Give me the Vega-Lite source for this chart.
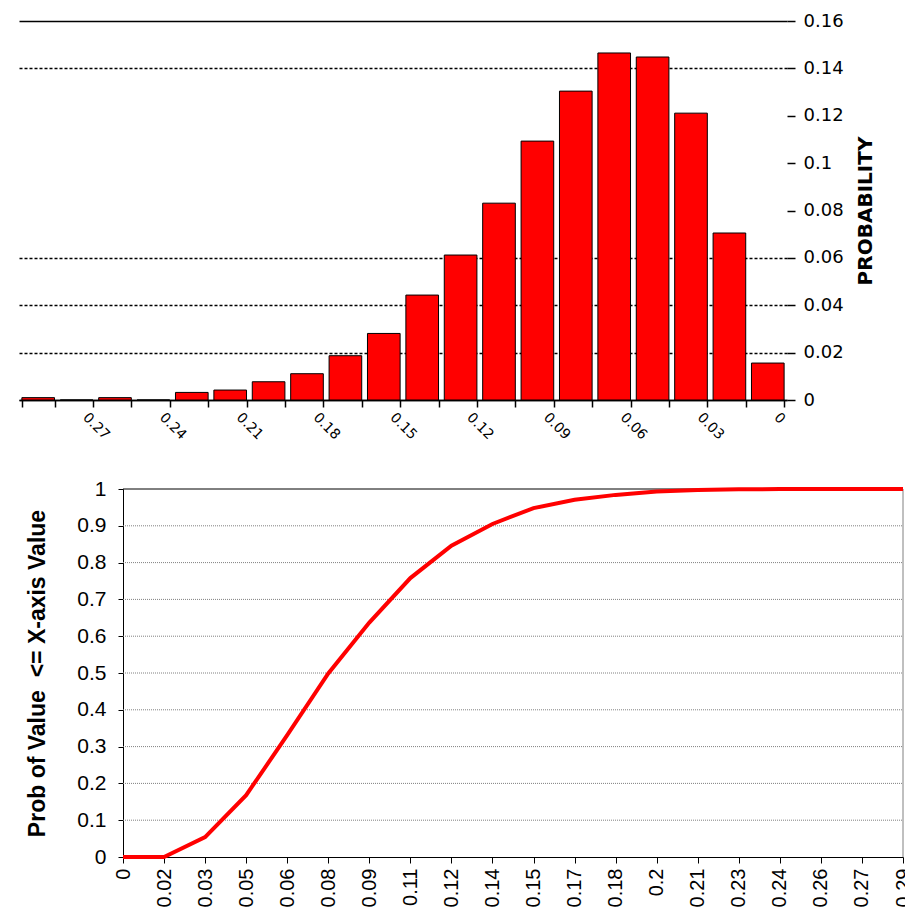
{
  "$schema": "https://vega.github.io/schema/vega-lite/v6.json",
  "background": "white",
  "padding": {"left": 14, "top": 12, "right": 0, "bottom": 0},
  "columns": 1,
  "align": "none",
  "spacing": 36,
  "concat": [
    {
      "width": 768,
      "height": 379,
      "view": {"stroke": null},
      "data": {"values": [
        {"x": "0.29", "p": 0.001},
        {"x": "0.27", "p": 0.0},
        {"x": "0.26", "p": 0.001},
        {"x": "0.24", "p": 0.0},
        {"x": "0.23", "p": 0.0032},
        {"x": "0.21", "p": 0.0042},
        {"x": "0.2", "p": 0.0077},
        {"x": "0.18", "p": 0.0111},
        {"x": "0.17", "p": 0.0187},
        {"x": "0.15", "p": 0.0281},
        {"x": "0.14", "p": 0.0443},
        {"x": "0.12", "p": 0.0612},
        {"x": "0.11", "p": 0.0831},
        {"x": "0.09", "p": 0.1093},
        {"x": "0.08", "p": 0.1304},
        {"x": "0.06", "p": 0.1465},
        {"x": "0.05", "p": 0.1448},
        {"x": "0.03", "p": 0.1211},
        {"x": "0.02", "p": 0.0705},
        {"x": "0", "p": 0.0156}
      ]},
      "mark": {"type": "bar", "color": "#ff0000", "stroke": "#000000", "strokeWidth": 1},
      "encoding": {
        "x": {
          "field": "x", "type": "ordinal", "sort": null,
          "scale": {"paddingInner": 0.15, "paddingOuter": 0.075},
          "axis": {
            "title": null,
            "labelAngle": 45, "labelAlign": "left", "labelBaseline": "middle",
            "labelFont": "DejaVu Sans", "labelFontSize": 14, "labelColor": "#000000",
            "labelPadding": 8, "labelOffset": 8, "labelOverlap": false,
            "labelExpr": "indexof(['0','0.03','0.06','0.09','0.12','0.15','0.18','0.21','0.24','0.27'], datum.value) >= 0 ? datum.value : ''",
            "tickColor": "#000000", "tickSize": 7, "tickWidth": 1.5, "tickBand": "extent",
            "domainColor": "#000000", "domainWidth": 1.5
          }
        },
        "y": {
          "field": "p", "type": "quantitative",
          "scale": {"domain": [0, 0.16], "nice": false},
          "axis": {
            "orient": "right",
            "values": [0, 0.02, 0.04, 0.06, 0.08, 0.1, 0.12, 0.14, 0.16],
            "format": ".2~f",
            "title": "PROBABILITY", "titleAngle": 270,
            "titleFont": "DejaVu Sans", "titleFontSize": 20, "titleFontWeight": "bold", "titleColor": "#000000",
            "titlePadding": 32,
            "labelFont": "DejaVu Sans", "labelFontSize": 18, "labelColor": "#000000", "labelPadding": 8,
            "domain": false,
            "tickColor": "#000000", "tickSize": 8, "tickWidth": 1.5,
            "grid": true,
            "gridColor": {"condition": {"test": "datum.value > 0.07 && datum.value < 0.13", "value": "rgba(0,0,0,0)"}, "value": "#000000"},
            "gridDash": {"condition": {"test": "datum.value > 0.15 || datum.value < 0.01", "value": []}, "value": [3, 2]},
            "gridWidth": 1.5
          }
        }
      }
    },
    {
      "width": 884,
      "height": 368,
      "view": {"stroke": null},
      "encoding": {
        "x": {
          "type": "ordinal",
          "scale": {
            "type": "point", "padding": 0, "range": [104, 884],
            "domain": ["0", "0.02", "0.03", "0.05", "0.06", "0.08", "0.09", "0.11", "0.12", "0.14", "0.15", "0.17", "0.18", "0.2", "0.21", "0.23", "0.24", "0.26", "0.27", "0.29"]
          },
          "axis": {
            "title": null,
            "labelAngle": -90, "labelAlign": "right", "labelBaseline": "middle",
            "labelFont": "Liberation Sans", "labelFontSize": 20, "labelColor": "#000000",
            "labelPadding": 5, "labelOverlap": false,
            "tickColor": "#000000", "tickSize": 6,
            "domainColor": "#000000", "grid": false
          }
        },
        "y": {
          "type": "quantitative",
          "scale": {"domain": [0, 1], "nice": false},
          "axis": {
            "offset": -104,
            "values": [0, 0.1, 0.2, 0.3, 0.4, 0.5, 0.6, 0.7, 0.8, 0.9, 1],
            "format": "~g",
            "title": "Prob of Value \u00a0<= X-axis Value",
            "titleFont": "Liberation Sans", "titleFontSize": 23, "titleFontWeight": "bold", "titleColor": "#000000",
            "titlePadding": 27,
            "labelFont": "Liberation Sans", "labelFontSize": 21, "labelColor": "#000000", "labelPadding": 12,
            "tickColor": "#000000", "tickSize": 5,
            "domainColor": "#000000",
            "grid": false
          }
        }
      },
      "layer": [
        {
          "data": {"values": [
            {"g": 0.1}, {"g": 0.2}, {"g": 0.3}, {"g": 0.4}, {"g": 0.5},
            {"g": 0.6}, {"g": 0.7}, {"g": 0.8}, {"g": 0.9}
          ]},
          "mark": {"type": "rule", "color": "#808080", "strokeWidth": 1, "strokeDash": [1, 1]},
          "encoding": {
            "y": {"field": "g"},
            "x": {"datum": "0"},
            "x2": {"datum": "0.29"}
          }
        },
        {
          "data": {"values": [{"g": 1}]},
          "mark": {"type": "rule", "color": "#000000", "strokeWidth": 1},
          "encoding": {
            "y": {"field": "g"},
            "x": {"datum": "0"},
            "x2": {"datum": "0.29"}
          }
        },
        {
          "data": {"values": [{"g": 0, "g2": 1}]},
          "mark": {"type": "rule", "color": "#808080", "strokeWidth": 1},
          "encoding": {
            "y": {"field": "g"},
            "y2": {"field": "g2"},
            "x": {"datum": "0.29"}
          }
        },
        {
          "data": {"values": [
            {"x": "0", "p": 0},
            {"x": "0.02", "p": 0},
            {"x": "0.03", "p": 0.054},
            {"x": "0.05", "p": 0.168},
            {"x": "0.06", "p": 0.331},
            {"x": "0.08", "p": 0.499},
            {"x": "0.09", "p": 0.637},
            {"x": "0.11", "p": 0.758},
            {"x": "0.12", "p": 0.846},
            {"x": "0.14", "p": 0.905},
            {"x": "0.15", "p": 0.948},
            {"x": "0.17", "p": 0.971},
            {"x": "0.18", "p": 0.984},
            {"x": "0.2", "p": 0.993},
            {"x": "0.21", "p": 0.997},
            {"x": "0.23", "p": 0.999},
            {"x": "0.24", "p": 1},
            {"x": "0.26", "p": 1},
            {"x": "0.27", "p": 1},
            {"x": "0.29", "p": 1}
          ]},
          "mark": {"type": "line", "color": "#ff0000", "strokeWidth": 4},
          "encoding": {
            "x": {"field": "x"},
            "y": {"field": "p"}
          }
        }
      ]
    }
  ]
}
